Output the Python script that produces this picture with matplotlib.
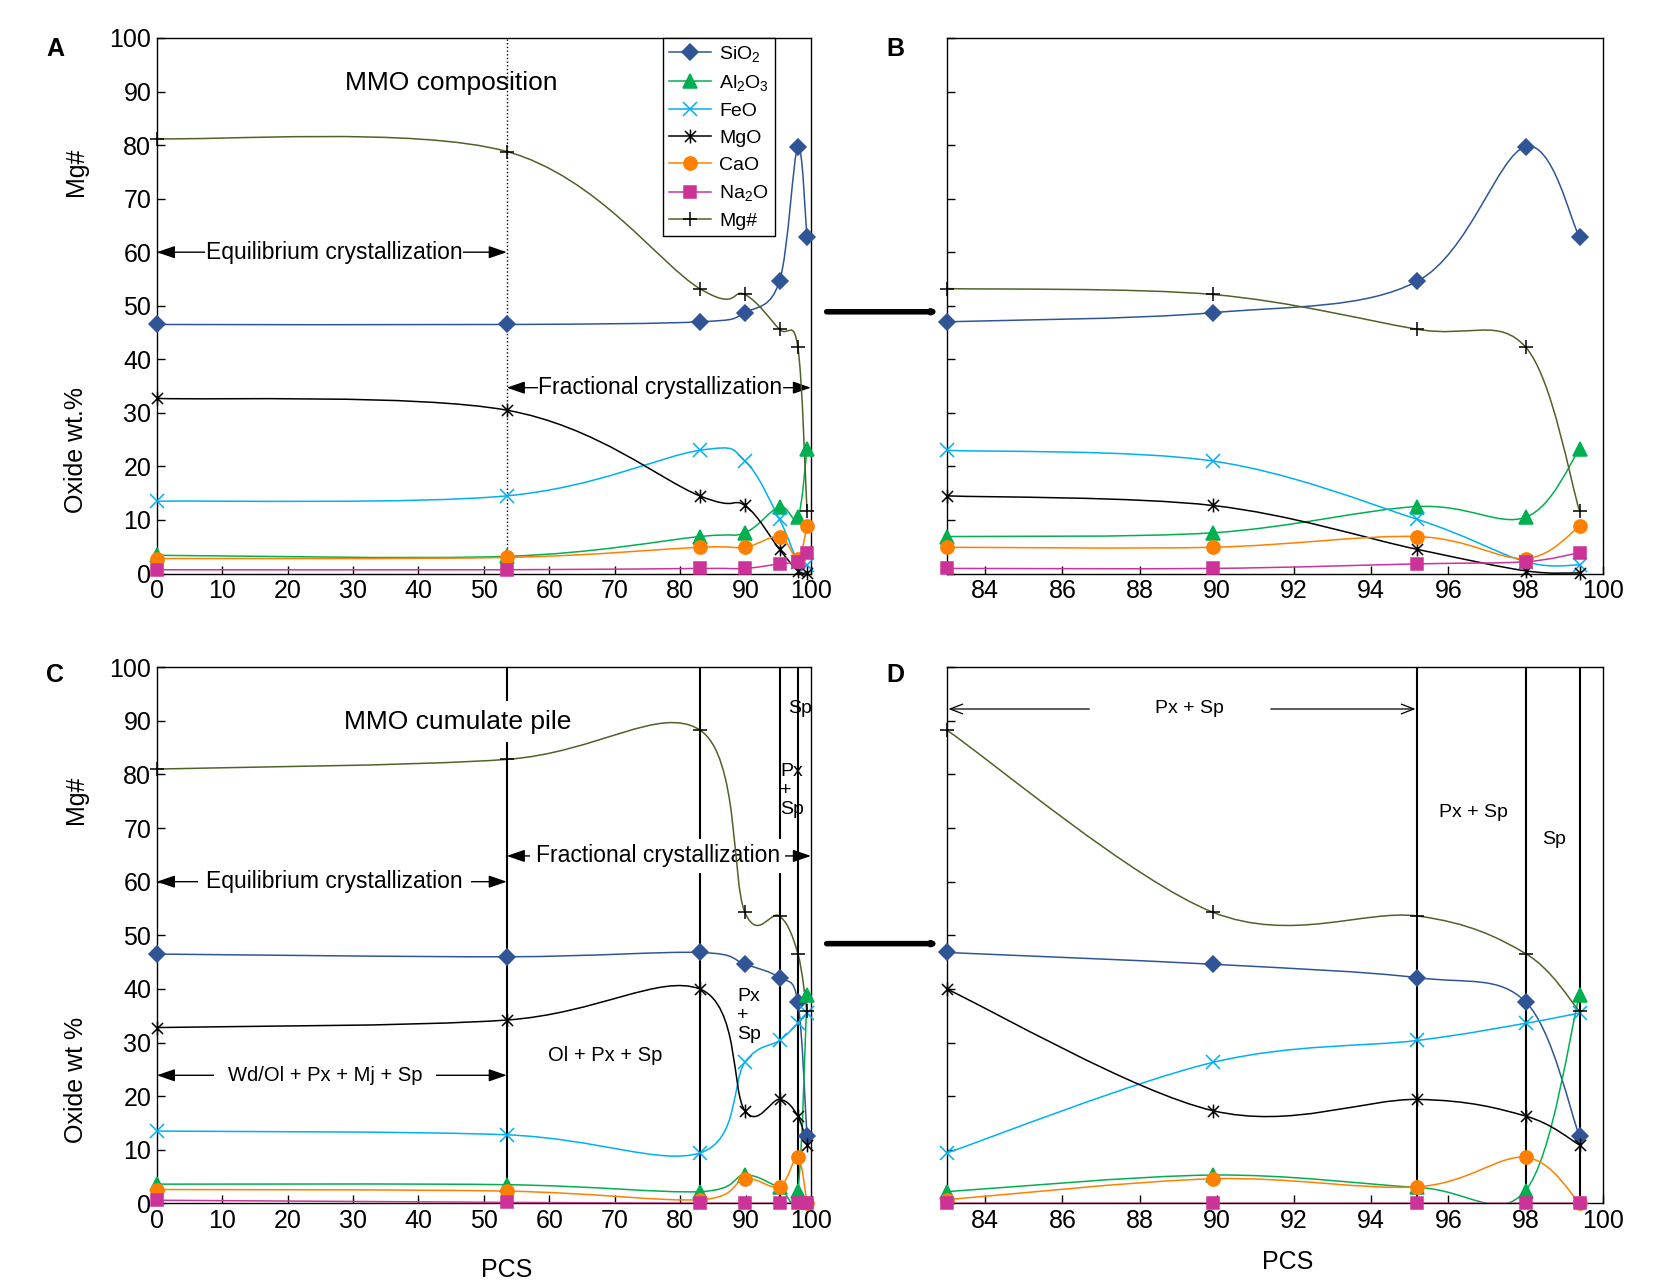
import numpy as np
import matplotlib
matplotlib.use('Agg')
import matplotlib.pyplot as plt
from matplotlib.path import Path
from matplotlib.patches import PathPatch, FancyArrowPatch
from matplotlib.lines import Line2D

plt.rcParams['font.family'] = ['Liberation Sans', 'DejaVu Sans']
plt.rcParams['mathtext.default'] = 'regular'

#---------------------- DATA
pcs = [0, 53.5, 83, 89.9, 95.2, 98, 99.4]

# MMO composition (panels A, B)
sio2_mmo  = [46.5, 46.5, 47.0, 48.7, 54.6, 79.7, 62.8]
al2o3_mmo = [3.4, 3.2, 6.9, 7.6, 12.5, 10.5, 23.2]
feo_mmo   = [13.5, 14.5, 23.0, 21.0, 10.1, 2.2, 1.6]
mgo_mmo   = [32.7, 30.5, 14.5, 12.7, 4.5, 0.5, 0.1]
cao_mmo   = [2.8, 3.0, 4.9, 4.9, 6.9, 2.8, 8.8]
na2o_mmo  = [0.7, 0.7, 0.95, 0.95, 1.8, 2.2, 3.9]
mgn_mmo   = [81.2, 78.8, 53.2, 52.1, 45.6, 42.3, 11.7]

# MMO cumulate pile (panels C, D)
sio2_cum  = [46.5, 46.0, 46.8, 44.6, 42.1, 37.6, 12.5]
al2o3_cum = [3.6, 3.5, 2.2, 5.3, 3.0, 2.4, 38.9]
feo_cum   = [13.5, 12.8, 9.4, 26.3, 30.4, 33.6, 35.5]
mgo_cum   = [32.8, 34.2, 40.0, 17.3, 19.4, 16.3, 10.9]
cao_cum   = [2.6, 2.3, 0.7, 4.6, 3.1, 8.6, 0.1]
na2o_cum  = [0.6, 0.2, 0.05, 0.05, 0.05, 0.05, 0.05]
mgn_cum   = [81.0, 82.8, 88.3, 54.3, 53.6, 46.6, 35.8]

names = ['SiO$_2$', 'Al$_2$O$_3$', 'FeO', 'MgO', 'CaO', 'Na$_2$O', 'Mg#']
xticks_full = [0, 10, 20, 30, 40, 50, 60, 70, 80, 90, 100]
xticks_zoom = [84, 86, 88, 90, 92, 94, 96, 98, 100]
yticks = [0, 10, 20, 30, 40, 50, 60, 70, 80, 90, 100]
cum_lines_C = [53.5, 83, 95.2, 98]
cum_lines_D = [95.2, 98, 99.4]

#---------------------- STYLE
star = Path([(-1, -1), (1, 1), (-1, 1), (1, -1), (0, -1.25), (0, 1.25)],
            [Path.MOVETO, Path.LINETO, Path.MOVETO, Path.LINETO, Path.MOVETO, Path.LINETO])
lcol = ['#2F5597', '#00B050', '#00B0F0', 'black', '#FF8000', '#CC3399', '#4F6228']
mcol = ['#2F5597', '#00B050', '#00B0F0', 'black', '#FF8000', '#CC3399', 'black']
mark = ['D', '^', 'x', star, 'o', 's', '+']
msz  = [8.5, 10, 10, 10, 9.5, 8.5, 10]


def smooth_path(x, y):
    # Excel-like smoothed line: Catmull-Rom control points, cubic Bezier segments
    p = np.column_stack([x, y]).astype(float)
    n = len(p)
    verts = [p[0]]
    codes = [Path.MOVETO]
    for i in range(n - 1):
        p0 = p[max(i - 1, 0)]
        p1 = p[i]
        p2 = p[i + 1]
        p3 = p[min(i + 2, n - 1)]
        verts += [p1 + (p2 - p0) / 6., p2 - (p3 - p1) / 6., p2]
        codes += [Path.CURVE4] * 3
    return Path(verts, codes)


def draw_series(ax, x, series):
    for k, y in enumerate(series):
        ax.add_patch(PathPatch(smooth_path(x, y), facecolor='none', edgecolor=lcol[k],
                               lw=1.1, zorder=4))
        filled = k in (0, 1, 4, 5)
        ax.plot(x, y, linestyle='none', marker=mark[k], ms=msz[k],
                mfc=mcol[k] if filled else 'none', mec=mcol[k], mew=1.1, zorder=5,
                clip_on=False)


def style_axes(ax, xlim, xticks, ylabels=True):
    ax.set_xlim(xlim)
    ax.set_ylim(0, 100)
    ax.set_xticks(xticks)
    ax.set_yticks(yticks)
    if not ylabels:
        ax.set_yticklabels([])
    ax.tick_params(direction='in', length=6, width=1, labelsize=18, pad=4)
    for s in ax.spines.values():
        s.set_linewidth(1.0)


def harrow(ax, x0, x1, y, lw=1.0, style='-|>,head_length=1.1,head_width=0.38'):
    ax.annotate('', xy=(x1, y), xytext=(x0, y),
                arrowprops=dict(arrowstyle=style, color='black', lw=lw, shrinkA=0, shrinkB=0), zorder=2)


series_mmo = [sio2_mmo, al2o3_mmo, feo_mmo, mgo_mmo, cao_mmo, na2o_mmo, mgn_mmo]
series_cum = [sio2_cum, al2o3_cum, feo_cum, mgo_cum, cao_cum, na2o_cum, mgn_cum]

fig = plt.figure(figsize=(16.6, 12.83), dpi=100)
axA = fig.add_axes([0.0945, 0.553, 0.394, 0.4174])
axB = fig.add_axes([0.5702, 0.553, 0.3953, 0.4174])
axC = fig.add_axes([0.0945, 0.062, 0.394, 0.418])
axD = fig.add_axes([0.5702, 0.062, 0.3953, 0.418])

#---> A
style_axes(axA, (0, 100), xticks_full)
draw_series(axA, pcs, series_mmo)
axA.axvline(53.5, color='black', ls=':', lw=1.0, zorder=1)
axA.text(45, 91.5, 'MMO composition', fontsize=19, ha='center', va='center')
axA.text(27.1, 60, 'Equilibrium crystallization', fontsize=16.5, ha='center', va='center',
         bbox=dict(fc='white', ec='none', pad=0.5), zorder=3)
harrow(axA, 27, 0, 60)
harrow(axA, 27, 53.5, 60)
axA.text(77, 34.7, 'Fractional crystallization', fontsize=16.5, ha='center', va='center',
         bbox=dict(fc='white', ec='none', pad=0.5), zorder=3)
harrow(axA, 77, 53.5, 34.7)
harrow(axA, 77, 100, 34.7)
axA.text(-0.123, 0.75, 'Mg#', fontsize=18, rotation=90, ha='center', va='center', transform=axA.transAxes)
axA.text(-0.123, 0.23, 'Oxide wt.%', fontsize=18, rotation=90, ha='center', va='center', transform=axA.transAxes)

handles = [Line2D([], [], color=lcol[k], lw=1.1, marker=mark[k], ms=msz[k],
                  mfc=mcol[k] if k in (0, 1, 4, 5) else 'none', mec=mcol[k], mew=1.1)
           for k in range(len(names))]
leg = axA.legend(handles, names, loc='upper right', bbox_to_anchor=(0.945, 1.0), borderaxespad=0,
                 fontsize=14, fancybox=False, edgecolor='black', framealpha=1, labelspacing=0.48,
                 handlelength=2.2, handletextpad=0.4, borderpad=0.3)
leg.get_frame().set_linewidth(1.0)
leg.set_zorder(6)

#---> B
style_axes(axB, (83, 100), xticks_zoom, ylabels=False)
draw_series(axB, pcs[2:], [s[2:] for s in series_mmo])

#---> C
style_axes(axC, (0, 100), xticks_full)
for xv in cum_lines_C:
    axC.axvline(xv, color='black', lw=1.5, zorder=1)
draw_series(axC, pcs, series_cum)
axC.text(46, 89.8, 'MMO cumulate pile', fontsize=19, ha='center', va='center',
         bbox=dict(fc='white', ec='none', pad=6), zorder=3)
axC.text(27.2, 60, 'Equilibrium crystallization', fontsize=16.5, ha='center', va='center',
         bbox=dict(fc='white', ec='none', pad=6), zorder=3)
harrow(axC, 27, 0, 60)
harrow(axC, 27, 53.5, 60)
axC.text(76.6, 64.8, 'Fractional crystallization', fontsize=16.5, ha='center', va='center',
         bbox=dict(fc='white', ec='none', pad=4), zorder=3)
harrow(axC, 77, 53.5, 64.8)
harrow(axC, 77, 100, 64.8)
axC.text(25.7, 23.9, 'Wd/Ol + Px + Mj + Sp', fontsize=14.5, ha='center', va='center',
         bbox=dict(fc='white', ec='none', pad=10), zorder=3)
harrow(axC, 26, 0, 23.9)
harrow(axC, 26, 53.5, 23.9)
axC.text(68.6, 27.5, 'Ol + Px + Sp', fontsize=14.5, ha='center', va='center')
axC.text(88.7, 35, 'Px\n+\nSp', fontsize=14, ha='left', va='center', linespacing=1.15)
axC.text(95.3, 77, 'Px\n+\nSp', fontsize=14, ha='left', va='center', linespacing=1.15)
axC.text(98.3, 92.3, 'Sp', fontsize=14, ha='center', va='center')
axC.text(-0.123, 0.753, 'Mg#', fontsize=18, rotation=90, ha='center', va='center', transform=axC.transAxes)
axC.text(-0.123, 0.231, 'Oxide wt %', fontsize=18, rotation=90, ha='center', va='center', transform=axC.transAxes)
axC.text(0.535, -0.125, 'PCS', fontsize=18, ha='center', va='center', transform=axC.transAxes)

#---> D
style_axes(axD, (83, 100), xticks_zoom, ylabels=False)
for xv in cum_lines_D:
    axD.axvline(xv, color='black', lw=1.5, zorder=1)
draw_series(axD, pcs[2:], [s[2:] for s in series_cum])
axD.text(89.3, 92.2, 'Px + Sp', fontsize=14, ha='center', va='center')
harrow(axD, 86.7, 83.05, 92.2, lw=0.9, style='->,head_length=0.9,head_width=0.35')
harrow(axD, 91.4, 95.15, 92.2, lw=0.9, style='->,head_length=0.9,head_width=0.35')
axD.text(96.65, 72.9, 'Px + Sp', fontsize=14, ha='center', va='center')
axD.text(98.74, 67.8, 'Sp', fontsize=14, ha='center', va='center')
axD.text(0.52, -0.11, 'PCS', fontsize=18, ha='center', va='center', transform=axD.transAxes)

#---> panel letters and linking arrows
for lab, xf, yf in [('A', 0.0332, 0.962), ('B', 0.5396, 0.962), ('C', 0.0332, 0.4735), ('D', 0.5396, 0.4735)]:
    fig.text(xf, yf, lab, fontsize=18, fontweight='bold', ha='center', va='center')
for yf in [0.757, 0.2645]:
    fig.add_artist(FancyArrowPatch((0.498, yf), (0.566, yf), transform=fig.transFigure,
                                   arrowstyle='-|>,head_length=1.6,head_width=0.7',
                                   color='black', lw=4, shrinkA=0, shrinkB=0))

fig.savefig('out.png', dpi=100)
